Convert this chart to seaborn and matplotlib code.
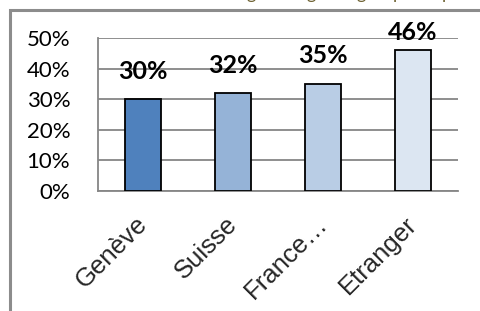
import matplotlib
matplotlib.use("Agg")
import matplotlib.pyplot as plt
import seaborn as sns
import pandas as pd
from matplotlib.patches import Rectangle
from matplotlib.transforms import ScaledTranslation

categories = ["Genève", "Suisse", "France…", "Etranger"]
values = [0.30, 0.32, 0.35, 0.46]
labels = ["30%", "32%", "35%", "46%"]
colors = ["#4F81BD", "#95B3D7", "#B9CDE5", "#DCE6F2"]
yticks = [0.0, 0.1, 0.2, 0.3, 0.4, 0.5]
yticklabels = ["0%", "10%", "20%", "30%", "40%", "50%"]

sns.set_style("white")
plt.rcParams["font.family"] = ["Lato", "DejaVu Sans"]

W, H = 480, 311
fig = plt.figure(figsize=(W / 100, H / 100), dpi=100)
ax = fig.add_axes([98 / W, 1 - 191 / H, 360 / W, 153 / H])

df = pd.DataFrame({"cat": categories, "val": values})
sns.barplot(data=df, x="cat", y="val", hue="cat", palette=colors, legend=False,
            saturation=1, width=0.4, edgecolor="black", linewidth=1.3, ax=ax, zorder=3)

grid = "#868686"
ax.set_ylim(0, 0.5)
ax.set_xlim(-0.5, len(categories) - 0.5)
ax.set_yticks(yticks)
ax.set_yticklabels(yticklabels, fontsize=16, color="black")
ax.yaxis.grid(True, color=grid, linewidth=1.3, zorder=0)
ax.set_axisbelow(True)
ax.tick_params(axis="y", length=8, width=1.3, color=grid, pad=12)

ax.set_xticks([i - 0.5 for i in range(len(categories) + 1)], minor=False)
ax.set_xticklabels([])
ax.set_xticks(range(len(categories)), minor=True)
ax.set_xticklabels(categories, minor=True, rotation=45, ha="right", va="top",
                   rotation_mode="anchor", fontsize=18.5, family="Liberation Sans")
ax.tick_params(axis="x", which="major", length=7, width=1.3, color=grid, direction="out")
ax.tick_params(axis="x", which="minor", length=0, pad=15)
shift = ScaledTranslation(-8 / 100, 0, fig.dpi_scale_trans)
for t in ax.get_xticklabels(minor=True):
    t.set_transform(t.get_transform() + shift)
ax.set_xlabel("")
ax.set_ylabel("")

for s in ["top", "right"]:
    ax.spines[s].set_visible(False)
for s in ["left", "bottom"]:
    ax.spines[s].set_color(grid)
    ax.spines[s].set_linewidth(1.3)

fig.canvas.draw()
for i, (v, lab) in enumerate(zip(values, labels)):
    top_px = H - ax.transData.transform((i, v))[1]
    off = min(28, top_px - 32)
    ax.annotate(lab, (i, v), xytext=(0, off), textcoords="offset pixels",
                ha="center", va="center", fontsize=18, fontweight="bold",
                color="black", annotation_clip=False)

# outer frame (partially outside image)
fig.patches.append(Rectangle((9.5 / W, -0.2), 2, 1.2 - 9.5 / H, transform=fig.transFigure,
                             fill=False, edgecolor="#8c8c8c", linewidth=2.2, figure=fig))

# clipped descenders of text above the image
for x, ch in [(251, "g"), (311, "g"), (361, "g"), (398, "p"), (447, "p")]:
    fig.text(x / W, 1 + 1.5 / H, ch, ha="center", va="baseline", fontsize=13,
             color="#6e6232")

fig.savefig("out.png", dpi=100)
